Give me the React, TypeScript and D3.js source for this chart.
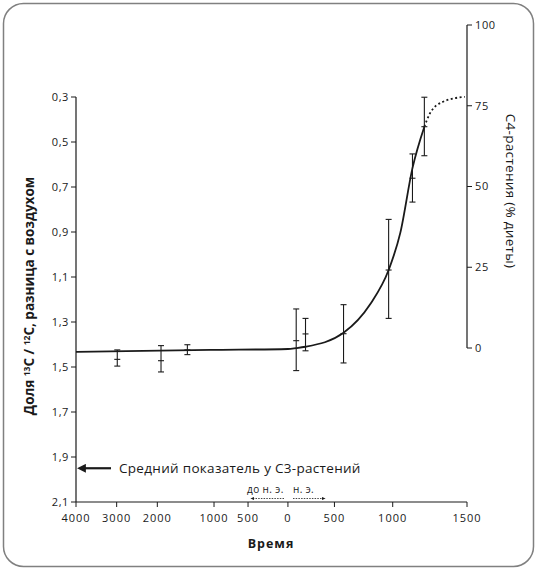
import React from "react";
import * as d3 from "d3";

// ---- data ----
const timeTicks = [-4000, -3000, -2000, -1000, -500, 0, 500, 1000, 1500];
const timeTickLabels = ["4000", "3000", "2000", "1000", "500", "0", "500", "1000", "1500"];
// the original time axis is not uniform; pixel anchors for each tick (fractions of the axis)
const timeAxisAnchors = [0, 0.104, 0.208, 0.353, 0.440, 0.542, 0.661, 0.810, 1.0];

const ratioTicks = [0.3, 0.5, 0.7, 0.9, 1.1, 1.3, 1.5, 1.7, 1.9, 2.1];
const dietTicks = [0, 25, 50, 75, 100];

// measured samples: year, mean, upper, lower (δ13C difference)
const sampleYears = [-2985, -1935, -1470, 89, 189, 578, 965, 1133, 1213];
const sampleMean = [1.466, 1.472, 1.424, 1.383, 1.353, 1.352, 1.069, 0.661, 0.432];
const sampleTop = [1.424, 1.405, 1.401, 1.242, 1.284, 1.223, 0.844, 0.553, 0.301];
const sampleBottom = [1.496, 1.522, 1.445, 1.516, 1.428, 1.482, 1.284, 0.767, 0.561];

// fitted curve (solid part)
const curveYears = [-4000, -1071, 0, 89, 189, 578, 808, 965, 1051, 1133, 1213];
const curveValues = [1.433, 1.424, 1.42, 1.416, 1.41, 1.348, 1.22, 1.069, 0.904, 0.616, 0.432];
// extrapolated (dotted) part
const dashYears = [1213, 1252, 1339, 1485];
const dashValues = [0.432, 0.371, 0.321, 0.299];

const c3Mean = 1.95;

export default function App() {
  const W = 537;
  const H = 569;
  const x0 = 76;
  const x1 = 467;
  const yTop = 97;
  const yBot = 502;

  const x = d3
    .scaleLinear()
    .domain(timeTicks)
    .range(timeAxisAnchors.map((f) => x0 + f * (x1 - x0)));
  const y = d3.scaleLinear().domain([0.3, 2.1]).range([yTop, yBot]);
  const yR = d3.scaleLinear().domain([0, 100]).range([348, 25]);

  const line = d3
    .line<[number, number]>()
    .x((d) => x(d[0]))
    .y((d) => y(d[1]))
    .curve(d3.curveMonotoneX);

  const solid = line(curveYears.map((t, i) => [t, curveValues[i]]) as [number, number][]) || "";
  const dotted = line(dashYears.map((t, i) => [t, dashValues[i]]) as [number, number][]) || "";

  const font = "'Open Sans', 'Noto Sans', sans-serif";
  const ink = "#1a1a1a";
  const cap = 3;

  return (
    <div style={{ position: "absolute", left: 0, top: 0 }}>
      <svg width={W} height={H} style={{ display: "block", fontFamily: font }}>
        <defs>
          <marker id="ah" viewBox="0 0 10 10" refX="1" refY="5" markerWidth="4" markerHeight="4" orient="auto-start-reverse">
            <path d="M0,0 L10,5 L0,10 z" fill={ink} />
          </marker>
          <marker id="sah" viewBox="0 0 10 10" refX="1" refY="5" markerWidth="5" markerHeight="5" orient="auto-start-reverse">
            <path d="M0,1 L10,5 L0,9 z" fill={ink} />
          </marker>
        </defs>
        <rect x={3.5} y={3.5} width={530} height={563} rx={20} ry={20} fill="#fff" stroke="#808080" strokeWidth={1.5} />

        {/* left axis */}
        <line x1={x0} x2={x0} y1={yTop} y2={yBot} stroke={ink} strokeWidth={1.2} />
        {ratioTicks.map((v) => (
          <g key={v}>
            <line x1={x0 - 5} x2={x0} y1={y(v)} y2={y(v)} stroke={ink} strokeWidth={1} />
            <text x={x0 - 7} y={y(v)} dy="0.35em" textAnchor="end" fontSize={11} letterSpacing={0.6} fill={ink}>
              {v.toFixed(1).replace(".", ",")}
            </text>
          </g>
        ))}

        {/* bottom axis */}
        <line x1={x0} x2={x1} y1={yBot} y2={yBot} stroke={ink} strokeWidth={1.2} />
        {timeTicks.map((t, i) => (
          <g key={t}>
            <line x1={x(t)} x2={x(t)} y1={yBot} y2={yBot + 5} stroke={ink} strokeWidth={1} />
            <text x={x(t)} y={yBot + 20} textAnchor="middle" fontSize={11} letterSpacing={1} fill={ink}>
              {timeTickLabels[i]}
            </text>
          </g>
        ))}

        {/* right axis */}
        <line x1={x1} x2={x1} y1={yR(100)} y2={yR(0)} stroke={ink} strokeWidth={1.2} />
        {dietTicks.map((v) => (
          <g key={v}>
            <line x1={x1} x2={x1 + 5} y1={yR(v)} y2={yR(v)} stroke={ink} strokeWidth={1} />
            <text x={x1 + 8} y={yR(v)} dy="0.35em" textAnchor="start" fontSize={11} letterSpacing={0.6} fill={ink}>
              {v}
            </text>
          </g>
        ))}

        {/* curves */}
        <path d={solid} fill="none" stroke={ink} strokeWidth={1.8} />
        <path d={dotted} fill="none" stroke={ink} strokeWidth={1.8} strokeDasharray="2 2.5" />

        {/* error bars */}
        {sampleYears.map((t, i) => {
          const cx = x(t);
          return (
            <g key={i} stroke={ink} strokeWidth={1.1}>
              <line x1={cx} x2={cx} y1={y(sampleTop[i])} y2={y(sampleBottom[i])} />
              <line x1={cx - cap} x2={cx + cap} y1={y(sampleTop[i])} y2={y(sampleTop[i])} />
              <line x1={cx - cap} x2={cx + cap} y1={y(sampleBottom[i])} y2={y(sampleBottom[i])} />
              <line x1={cx - cap} x2={cx + cap} y1={y(sampleMean[i])} y2={y(sampleMean[i])} />
            </g>
          );
        })}

        {/* C3 mean annotation */}
        <line x1={111} x2={x0 + 9} y1={y(c3Mean)} y2={y(c3Mean)} stroke={ink} strokeWidth={2.2} markerEnd="url(#ah)" />
        <text x={119} y={y(c3Mean)} dy="0.36em" fontSize={13.5} letterSpacing={0.3} fill={ink}>
          Средний показатель у С3-растений
        </text>

        {/* BC / AD markers */}
        <text x={247} y={493} fontSize={10} letterSpacing={0.4} fill={ink}>до н. э.</text>
        <text x={293} y={493} fontSize={10} letterSpacing={0.4} fill={ink}>н. э.</text>
        <line x1={284} x2={254} y1={498.5} y2={498.5} stroke={ink} strokeWidth={0.8} strokeDasharray="1.5 1.2" markerEnd="url(#sah)" />
        <line x1={293} x2={322} y1={498.5} y2={498.5} stroke={ink} strokeWidth={0.8} strokeDasharray="1.5 1.2" markerEnd="url(#sah)" />

        {/* axis titles */}
        <text x={271} y={548} textAnchor="middle" fontSize={12.5} fontWeight="bold" letterSpacing={1} fill={ink}>
          Время
        </text>
        <text transform={`translate(34,${296}) rotate(-90)`} textAnchor="middle" fontSize={13.5} fontWeight="bold" fill={ink}>
          Доля <tspan fontSize={8.5} dy={-4.5}>13</tspan><tspan dy={4.5}>С / </tspan><tspan fontSize={8.5} dy={-4.5}>12</tspan><tspan dy={4.5}>С, разница с воздухом</tspan>
        </text>
        <text transform={`translate(506,${191}) rotate(90)`} textAnchor="middle" fontSize={13.5} letterSpacing={0.3} fill={ink}>
          С4-растения (% диеты)
        </text>
      </svg>
    </div>
  );
}
